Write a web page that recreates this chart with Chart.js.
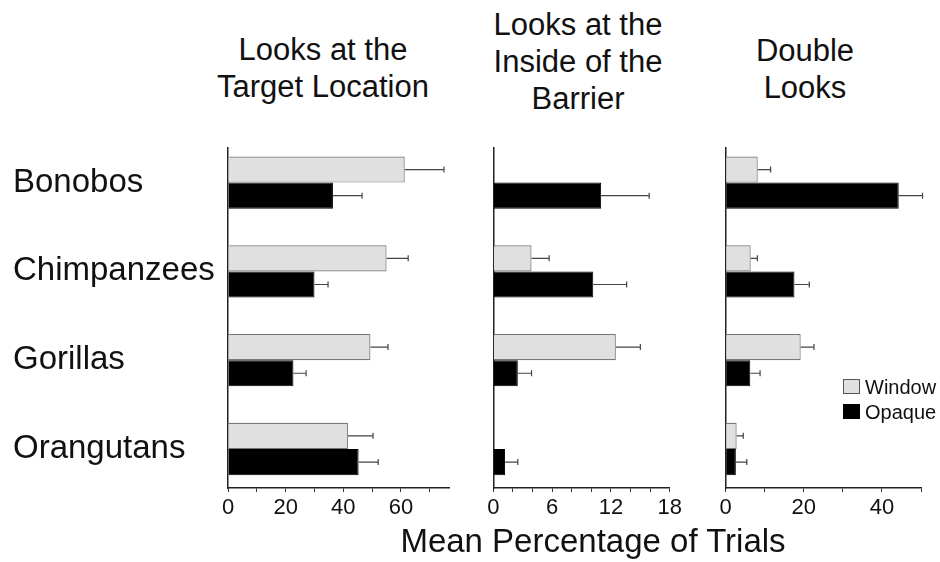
<!DOCTYPE html>
<html>
<head>
<meta charset="utf-8">
<script src="https://cdn.jsdelivr.net/npm/chart.js@4.4.0/dist/chart.umd.min.js"></script>
<style>
  body { margin: 0; background: #fff; }
  #wrap { position: relative; width: 940px; height: 562px; overflow: hidden;
          font-family: "Liberation Sans", Arial, sans-serif; color: #111; }
  .title { position: absolute; width: 260px; text-align: center; font-size: 31px; line-height: 37px; }
  canvas { position: absolute; }
  .xlabel { position: absolute; left: 393px; top: 521px; width: 400px; text-align: center; font-size: 33px; line-height: 40px; }
  .leg { position: absolute; left: 843px; width: 17px; height: 15px; box-sizing: border-box; }
  .legtxt { position: absolute; left: 865px; font-size: 20px; line-height: 22px; }
</style>
</head>
<body>
<div id="wrap">
  <div class="title" style="left:193px; top:31px;">Looks at the<br>Target Location</div>
  <div class="title" style="left:448px; top:6px;">Looks at the<br>Inside of the<br>Barrier</div>
  <div class="title" style="left:675px; top:32px;">Double<br>Looks</div>

  <canvas id="c1" width="437" height="420" style="left:13px; top:118px;"></canvas>
  <canvas id="c2" width="215" height="420" style="left:470px; top:118px;"></canvas>
  <canvas id="c3" width="235" height="420" style="left:700px; top:118px;"></canvas>

  <div class="leg" style="top:379px; background:#e0e0e0; border:1.5px solid #555;"></div>
  <div class="legtxt" style="top:376px;">Window</div>
  <div class="leg" style="top:404px; background:#000; border:1.5px solid #000;"></div>
  <div class="legtxt" style="top:401px;">Opaque</div>

  <div class="xlabel">Mean Percentage of Trials</div>
</div>
<script>
const species = ['Bonobos', 'Chimpanzees', 'Gorillas', 'Orangutans'];

// Looks at the Target Location
const targetWindow = [61.3, 55.0, 49.4, 41.6];
const targetWindowErr = [13.6, 7.5, 6.1, 8.7];
const targetOpaque = [36.4, 30.0, 22.7, 45.3];
const targetOpaqueErr = [10.1, 4.7, 4.4, 6.8];

// Looks at the Inside of the Barrier
const insideWindow = [0, 3.9, 12.5, 0];
const insideWindowErr = [0, 1.8, 2.5, 0];
const insideOpaque = [11.0, 10.2, 2.5, 1.2];
const insideOpaqueErr = [4.9, 3.4, 1.4, 1.3];

// Double Looks
const doubleWindow = [8.2, 6.4, 19.2, 2.8];
const doubleWindowErr = [3.3, 1.7, 3.4, 1.7];
const doubleOpaque = [44.3, 17.6, 6.3, 2.6];
const doubleOpaqueErr = [6.1, 3.8, 2.5, 2.8];

const errorBars = {
  id: 'errorBars',
  afterDatasetsDraw(chart) {
    const ctx = chart.ctx;
    const xs = chart.scales.x;
    chart.data.datasets.forEach((ds, i) => {
      chart.getDatasetMeta(i).data.forEach((bar, j) => {
        const v = ds.data[j].x, e = ds.errors[j];
        if (!e) return;
        const x0 = xs.getPixelForValue(v), x1 = xs.getPixelForValue(v + e);
        ctx.save();
        ctx.strokeStyle = '#444';
        ctx.lineWidth = 1.2;
        ctx.beginPath();
        ctx.moveTo(x0, bar.y); ctx.lineTo(x1, bar.y);
        ctx.moveTo(x1, bar.y - 3); ctx.lineTo(x1, bar.y + 3);
        ctx.stroke();
        ctx.restore();
      });
    });
  }
};

// species index -> point on a linear index axis
const pts = vals => vals.map((v, i) => ({ x: v, y: i }));

function makeChart(id, win, winErr, opq, opqErr, max, step, labelEvery, yWidth, padRight, showCats) {
  return new Chart(document.getElementById(id), {
    type: 'bar',
    data: {
      datasets: [
        { label: 'Window', data: pts(win), errors: winErr, backgroundColor: '#e0e0e0',
          borderColor: '#777', borderWidth: 1.2 },
        { label: 'Opaque', data: pts(opq), errors: opqErr, backgroundColor: '#000',
          borderColor: '#000', borderWidth: 1 }
      ]
    },
    options: {
      indexAxis: 'y',
      responsive: false,
      animation: false,
      layout: { padding: { top: 30, right: padRight, left: 0, bottom: 0 } },
      datasets: { bar: { categoryPercentage: 0.59, barPercentage: 1.0 } },
      plugins: { legend: { display: false }, tooltip: { enabled: false } },
      scales: {
        x: {
          type: 'linear', min: 0, max: max,
          afterFit: s => { s.height = 50; },
          border: { color: '#222', width: 1.5 },
          grid: { drawOnChartArea: false, drawTicks: true, tickLength: 4, color: '#333' },
          ticks: {
            stepSize: step, autoSkip: false, includeBounds: false, maxRotation: 0, padding: 3,
            color: '#111', font: { size: 22, family: '"Liberation Sans", Arial, sans-serif' },
            callback: v => (v % labelEvery === 0 ? v : '')
          }
        },
        y: {
          type: 'linear', min: -0.39, max: 3.44, reverse: true, offset: false,
          afterFit: s => { s.width = yWidth; },
          border: { color: '#222', width: 1.5 },
          grid: { display: false },
          ticks: {
            display: showCats, stepSize: 1, includeBounds: false, autoSkip: false,
            crossAlign: 'far', color: '#111',
            font: { size: 33, family: '"Liberation Sans", Arial, sans-serif' },
            callback: v => species[v] ?? ''
          }
        }
      }
    },
    plugins: [errorBars]
  });
}

makeChart('c1', targetWindow, targetWindowErr, targetOpaque, targetOpaqueErr, 77, 10, 20, 215, 0, true);
makeChart('c2', insideWindow, insideWindowErr, insideOpaque, insideOpaqueErr, 18, 2, 6, 23.3, 15, false);
makeChart('c3', doubleWindow, doubleWindowErr, doubleOpaque, doubleOpaqueErr, 50, 10, 20, 25.7, 14, false);
</script>
</body>
</html>
